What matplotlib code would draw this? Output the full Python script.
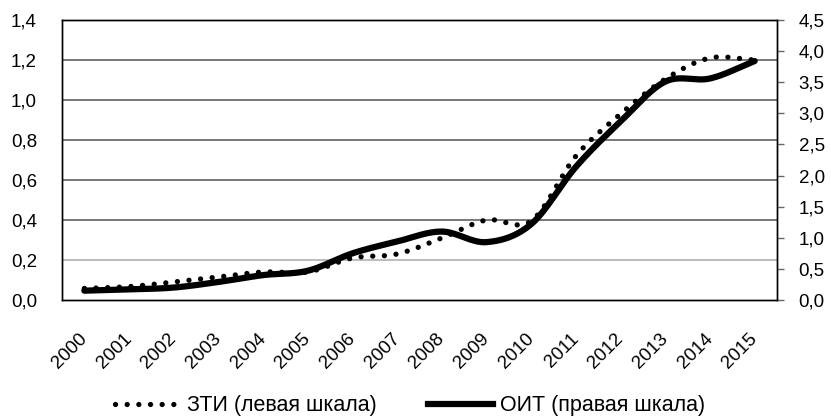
import numpy as np
import matplotlib
matplotlib.use("Agg")
from matplotlib import pyplot as plt
from matplotlib.lines import Line2D

plt.rcParams['font.family'] = ['Liberation Sans', 'DejaVu Sans']

# years on the category axis
years = list(range(2000, 2016))

# ZTI, left scale
zti = [0.058, 0.067, 0.09, 0.115, 0.14, 0.14, 0.21, 0.23,
       0.31, 0.40, 0.395, 0.72, 0.93, 1.105, 1.21, 1.20]

# OIT, right scale
oit = [0.15, 0.17, 0.20, 0.29, 0.40, 0.47, 0.75, 0.94,
       1.10, 0.93, 1.22, 2.14, 2.87, 3.51, 3.56, 3.84]

left_ticks = [0.0, 0.2, 0.4, 0.6, 0.8, 1.0, 1.2, 1.4]
right_ticks = [0.0, 0.5, 1.0, 1.5, 2.0, 2.5, 3.0, 3.5, 4.0, 4.5]


def smooth(xs, ys, n=30):
    # Catmull-Rom curve through the points (Excel-style smoothed line)
    xs = np.asarray(xs, float)
    ys = np.asarray(ys, float)
    px = np.concatenate([[2 * xs[0] - xs[1]], xs, [2 * xs[-1] - xs[-2]]])
    py = np.concatenate([[2 * ys[0] - ys[1]], ys, [2 * ys[-1] - ys[-2]]])
    out_x, out_y = [], []
    t = np.linspace(0, 1, n, endpoint=False)
    for i in range(1, len(px) - 2):
        mx0 = (px[i + 1] - px[i - 1]) / 2
        mx1 = (px[i + 2] - px[i]) / 2
        my0 = (py[i + 1] - py[i - 1]) / 2
        my1 = (py[i + 2] - py[i]) / 2
        h00 = 2 * t**3 - 3 * t**2 + 1
        h10 = t**3 - 2 * t**2 + t
        h01 = -2 * t**3 + 3 * t**2
        h11 = t**3 - t**2
        out_x.extend(h00 * px[i] + h10 * mx0 + h01 * px[i + 1] + h11 * mx1)
        out_y.extend(h00 * py[i] + h10 * my0 + h01 * py[i + 1] + h11 * my1)
    out_x.append(xs[-1])
    out_y.append(ys[-1])
    return np.array(out_x), np.array(out_y)


def comma(v, pos=None):
    return ("%.1f" % v).replace(".", ",")


DOTS = (0, (0.01, 2.2))

fig = plt.figure(figsize=(8.31, 4.17), dpi=100)
ax = fig.add_axes([62 / 831, 1 - 300 / 417, 715 / 831, 280 / 417])
ax2 = ax.twinx()

idx = np.arange(len(years))

sx, sy = smooth(idx, zti)
ax.plot(sx, sy, color='black', lw=3.8, linestyle=DOTS,
        dash_capstyle='round')

ox, oy = smooth(idx, oit)
ax2.plot(ox, oy, color='black', lw=4.5, solid_capstyle='round')

ax.set_xlim(-0.5, len(years) - 0.5)
ax.set_ylim(0, 1.4)
ax2.set_ylim(0, 4.5)

ax.set_yticks(left_ticks)
ax.set_yticklabels([comma(v) for v in left_ticks])
ax2.set_yticks(right_ticks)
ax2.set_yticklabels([comma(v) for v in right_ticks])

for v in left_ticks[1:-1]:
    ax.axhline(v, color='#555555' if v > 0.3 else '#aaaaaa', lw=1.1, zorder=0)

ax.set_xticks(idx)
ax.set_xticklabels([str(y) for y in years], rotation=45, ha='right',
                   va='center', rotation_mode='anchor', fontsize=13.5)
ax.tick_params(axis='x', length=0, pad=26)
ax.tick_params(axis='y', length=0, pad=18, labelsize=13.5)
ax2.tick_params(axis='y', length=5, width=1, pad=10.5, labelsize=13.5,
                color='#666666')

for a in (ax, ax2):
    for s in a.spines.values():
        s.set_color('black')
        s.set_linewidth(1.0)

handles = [
    Line2D([], [], color='black', lw=3.8, linestyle=DOTS,
           dash_capstyle='round'),
    Line2D([], [], color='black', lw=4.5),
]
fig.legend(handles, ['ЗТИ (левая шкала)', 'ОИТ (правая шкала)'],
           loc='center', bbox_to_anchor=(410 / 831, 1 - 406 / 417), ncol=2,
           frameon=False, fontsize=15.5, handlelength=3.0,
           handletextpad=0.35, columnspacing=2.4)

fig.savefig("out.png", dpi=100)
